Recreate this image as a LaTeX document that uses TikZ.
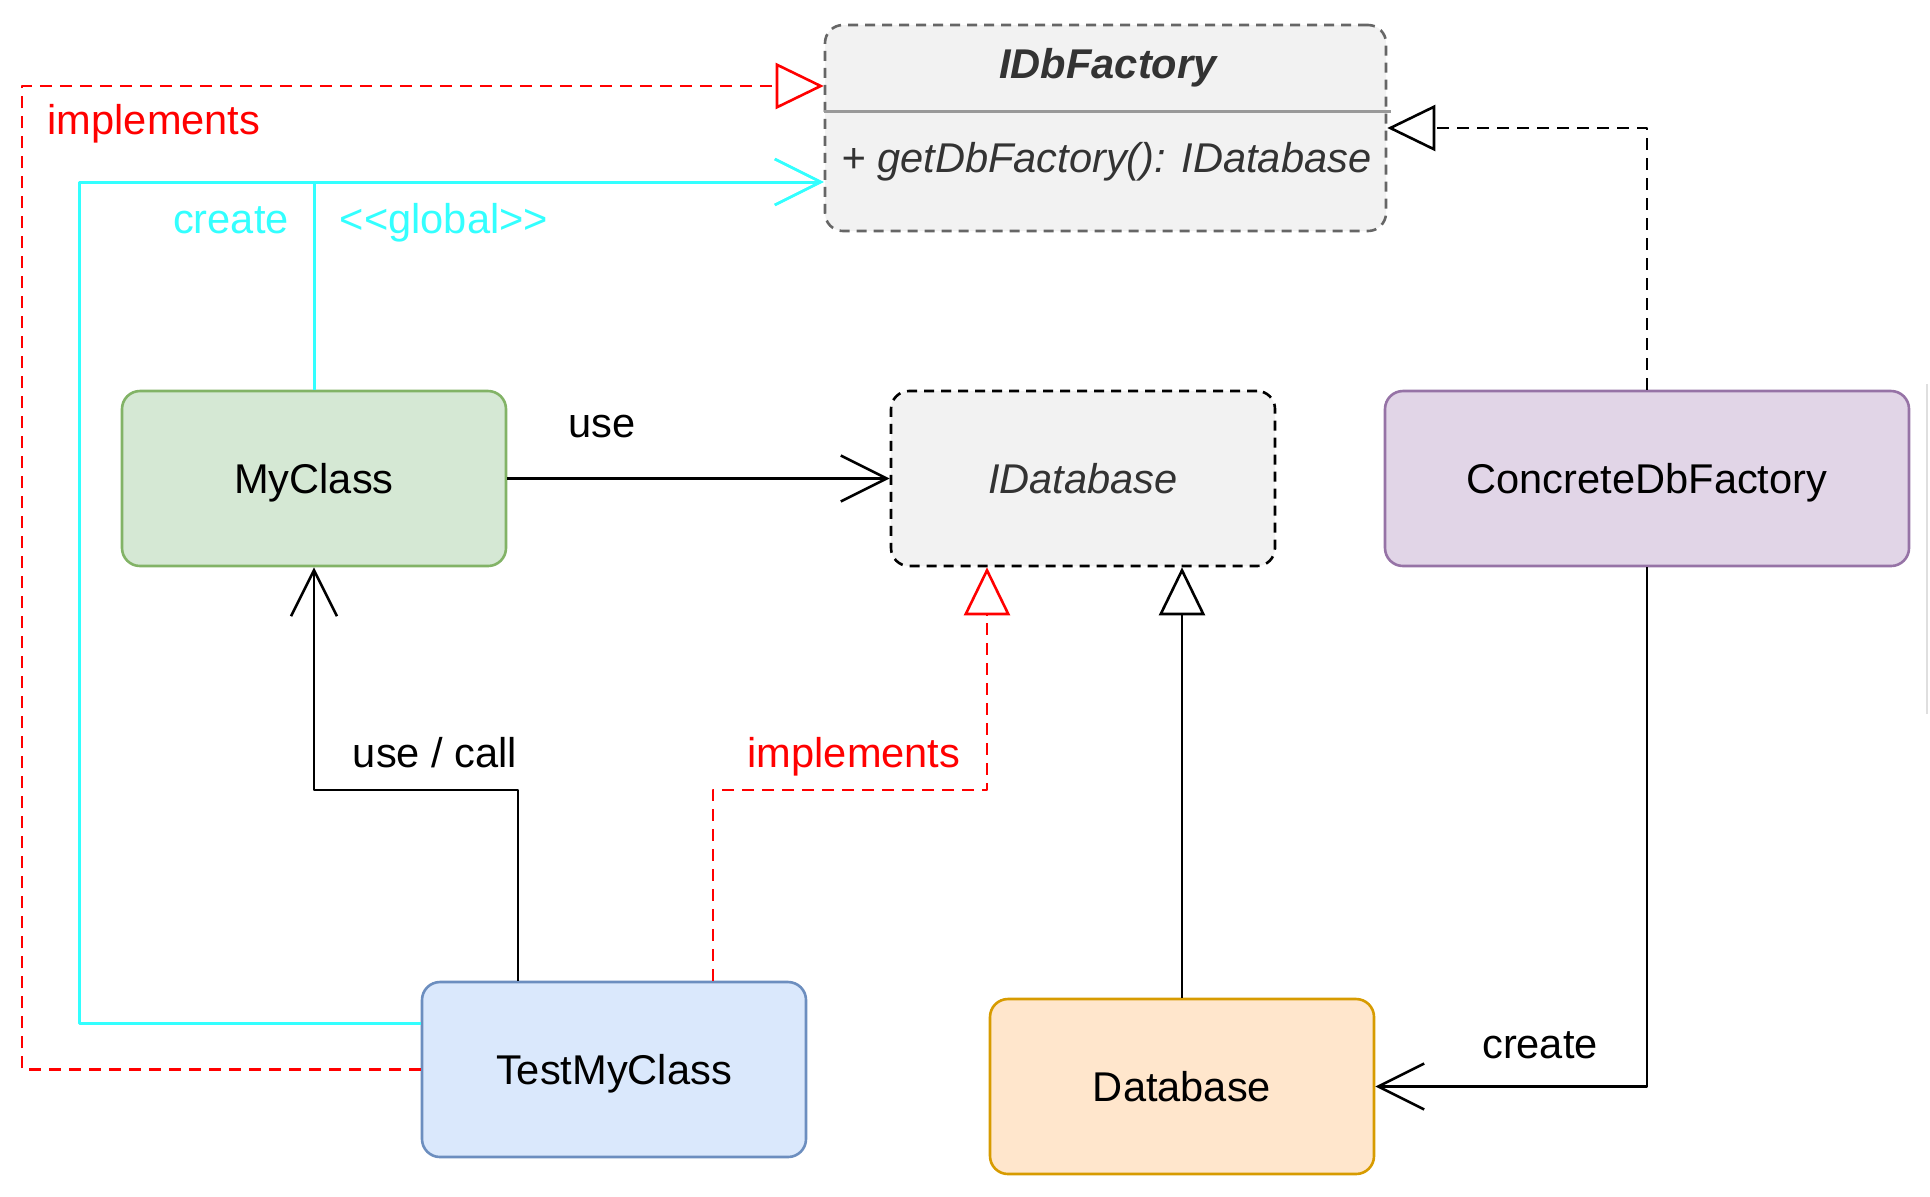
\documentclass[tikz,border=0pt]{standalone}
\usepackage{fontspec}
\setmainfont{Liberation Sans}
\usetikzlibrary{arrows.meta}
\definecolor{cgreenf}{HTML}{D5E8D4}\definecolor{cgreend}{HTML}{82B366}
\definecolor{cbluef}{HTML}{DAE8FC}\definecolor{cblued}{HTML}{6C8EBF}
\definecolor{cpurpf}{HTML}{E1D5E7}\definecolor{cpurpd}{HTML}{9673A6}
\definecolor{corgf}{HTML}{FFE6CC}\definecolor{corgd}{HTML}{D79B00}
\definecolor{cgrayf}{HTML}{F2F2F2}\definecolor{cgrayd}{HTML}{666666}
\definecolor{ctext}{HTML}{333333}
\definecolor{cred}{HTML}{FF0000}\definecolor{ccyan}{HTML}{33FFFF}
\tikzset{
  box/.style={rectangle, rounded corners=9pt, line width=1.3pt, minimum width=192pt, minimum height=87.5pt, inner sep=0pt, text height=16.4pt, text depth=1.2pt, font=\fontsize{20.8pt}{25pt}\selectfont},
  lbl/.style={inner sep=0pt, anchor=base, font=\fontsize{20.8pt}{25pt}\selectfont},
  conn/.style={line width=1.3pt, line join=round},
  openarr/.style={-{Straight Barb[length=23pt,width=23pt,line width=1.3pt]}},
  triarr/.style={-{Triangle[open,length=24pt,width=23pt,line width=1.3pt]}},
  dsh/.style={dash pattern=on 6pt off 4pt},
  bdsh/.style={dash pattern=on 5pt off 3.5pt}
}
\begin{document}
\begin{tikzpicture}[x=0.5pt,y=-0.5pt]
\useasboundingbox (0,0) rectangle (1930,1196);
% nodes
\node[box, draw=cgrayd, fill=cgrayf, bdsh, minimum width=280.5pt, minimum height=103pt] (IDbFactory) at (1105.5,128) {};
\node[box, draw=cgreend, fill=cgreenf] (MyClass) at (314,478.5) {MyClass};
\node[box, draw=black, fill=cgrayf, bdsh, text=ctext, font=\fontsize{20.8pt}{25pt}\selectfont\itshape] (IDatabase) at (1083,478.5) {IDatabase};
\node[box, draw=cpurpd, fill=cpurpf, minimum width=262pt] (Concrete) at (1647,478.5) {ConcreteDbFactory};
\node[box, draw=cblued, fill=cbluef] (TestMyClass) at (614,1069.5) {TestMyClass};
\node[box, draw=corgd, fill=corgf] (Database) at (1182,1086.5) {Database};
% IDbFactory content
\coordinate (dv) at (0,111.5);
\draw[line width=1.4pt, color=gray!80] (IDbFactory.west |- dv) -- ([xshift=2pt]IDbFactory.east |- dv);
\node[lbl, text=ctext, font=\fontsize{20.8pt}{25pt}\selectfont\bfseries\itshape] (title) at (1108,78) {IDbFactory};
\node[lbl, text=ctext, anchor=base west, font=\fontsize{20.8pt}{25pt}\selectfont\itshape] (method) at (841,172) {+ getDbFactory(): IDatabase};
% connectors
\draw[conn, openarr] (MyClass.east) -- (IDatabase.west);
\node[lbl] (luse) at (602,437) {use};

\coordinate (b2) at (518,790);
\draw[conn, openarr] (b2 |- TestMyClass.north) -- (b2) -- (b2 -| MyClass.south) -- (MyClass.south);
\node[lbl] (lusecall) at (435,767) {use / call};

\coordinate (b3a) at (713,790);
\coordinate (b3b) at (987,790);
\draw[conn, cred, dsh, triarr] (b3a |- TestMyClass.north) -- (b3a) -- (b3b) -- (b3b |- IDatabase.south);
\node[lbl, text=cred] (limpl2) at (854,767) {implements};

\draw[conn, triarr] (Database.north) -- (Database.north |- IDatabase.south);

\draw[conn, openarr] (Concrete.south) -- (Concrete.south |- Database.east) -- (Database.east);
\node[lbl] (lcreate2) at (1540,1058) {create};

\draw[conn, dsh, triarr] (Concrete.north) -- (Concrete.north |- IDbFactory.east) -- (IDbFactory.east);

\coordinate (b7) at (22,86);
\draw[conn, cred, dsh, triarr] (TestMyClass.west) -- (TestMyClass.west -| b7) -- (b7) -- (b7 -| IDbFactory.west);
\node[lbl, text=cred] (limpl1) at (154,134) {implements};

\coordinate (b8) at (79,182);
\coordinate (b8a) at (79,1023);
\draw[conn, ccyan, line width=1.5pt, openarr] (b8a -| TestMyClass.west) -- (b8a) -- (b8) -- (b8 -| IDbFactory.west);
\draw[conn, ccyan, line width=1.5pt, openarr] (MyClass.north) -- (MyClass.north |- b8) -- (b8 -| IDbFactory.west);
\node[lbl, text=ccyan] (lcreate1) at (231,233) {create};
\node[lbl, text=ccyan] (lglobal) at (444,233) {<{}<global>{}>};

% faint edge artifact
\coordinate (g1) at (1927,384);
\coordinate (g2) at (1927,714);
\draw[line width=1pt, gray!25] (g1) -- (g2);
\end{tikzpicture}
\end{document}
